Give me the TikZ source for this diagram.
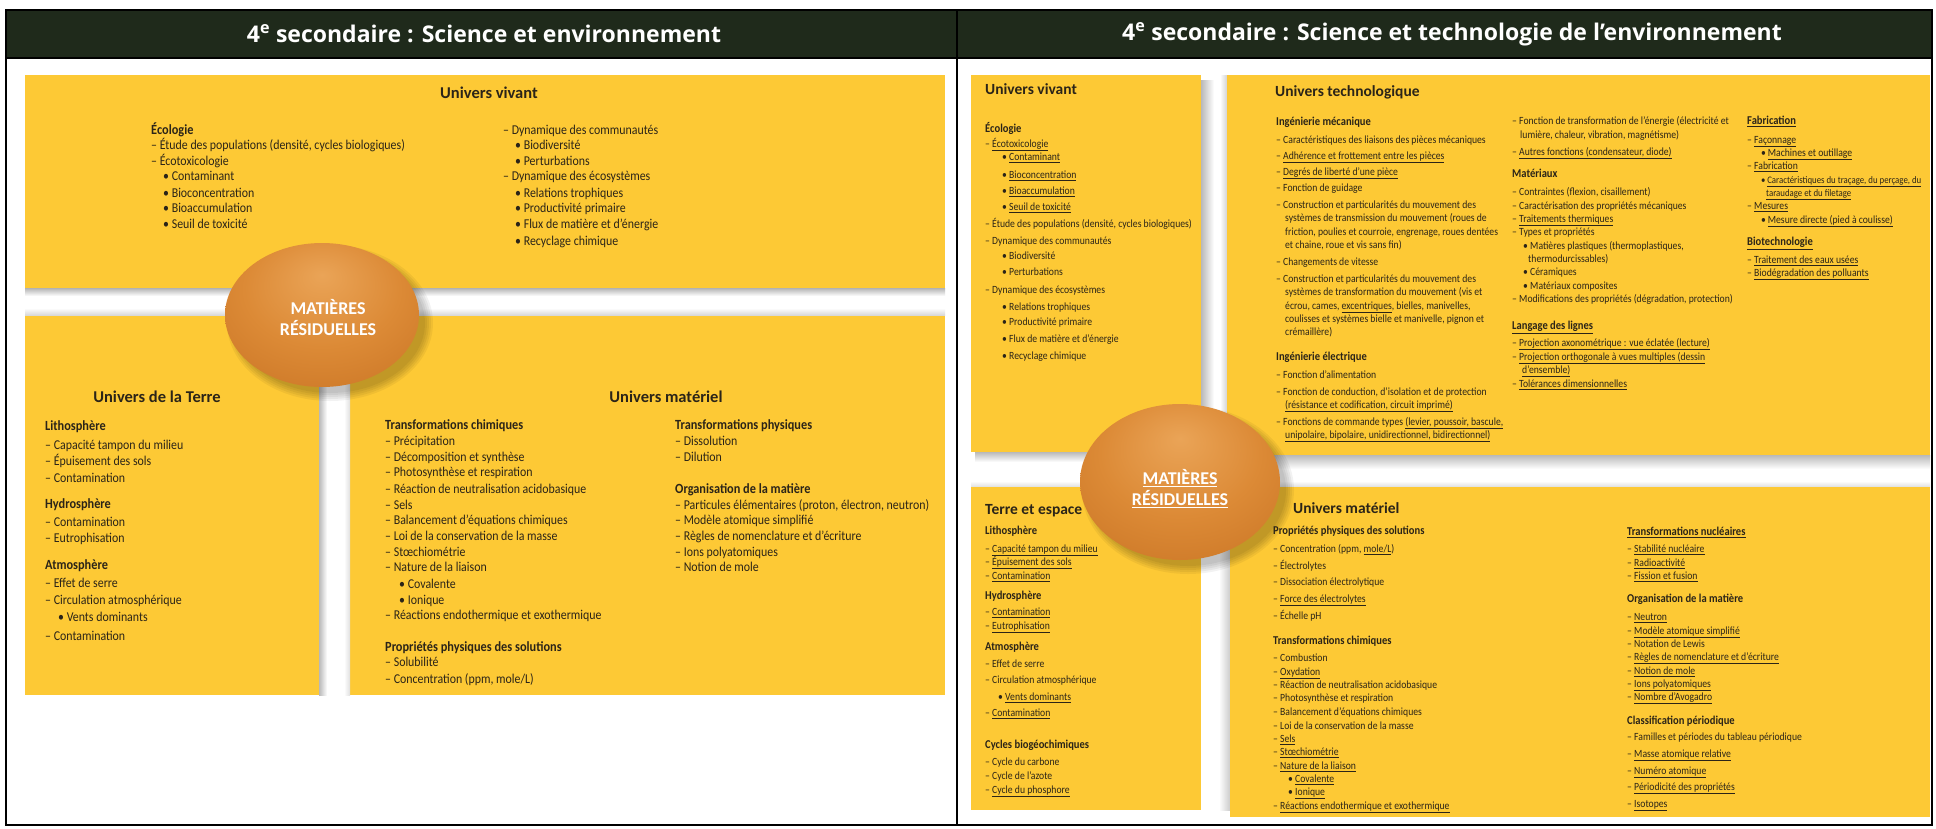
\documentclass[tikz,border=0pt]{standalone}
\usepackage{fontspec}
\setmainfont{Carlito}[FakeStretch=0.88]
\newfontfamily\headfont{Carlito}
\newfontfamily\hdrfont{Open Sans}
\definecolor{hdrgreen}{HTML}{1F2A1B}
\definecolor{ylw}{HTML}{FDC935}
\definecolor{txt}{HTML}{2B2418}
\definecolor{orgA}{HTML}{EAA457}
\definecolor{orgM}{HTML}{DC8A36}
\definecolor{orgB}{HTML}{C97424}
\definecolor{orgC}{HTML}{B0621D}
\pgfdeclareradialshading{ovalsh}{\pgfpoint{0bp}{14bp}}{color(0bp)=(orgA); color(20bp)=(orgM); color(40bp)=(orgB); color(56bp)=(orgC)}
\newcounter{tn}
\newcommand\tline[4]{\stepcounter{tn}\node[#1] (t\arabic{tn}) at (#2,#3) {#4};}
\begin{document}
\begin{tikzpicture}[x=1pt,y=-1pt,
  lb/.style={anchor=mid west, inner sep=0, text=txt, font=\fontsize{13.5}{15}\selectfont},
  ls/.style={lb, font=\fontsize{14}{16}\selectfont\bfseries},
  lh/.style={anchor=center, inner sep=0, text=txt, font=\headfont\fontsize{16.5}{18}\selectfont\bfseries},
  rb/.style={anchor=mid west, inner sep=0, text=txt, font=\fontsize{11}{13}\selectfont},
  rbs/.style={rb, font=\fontsize{10}{12}\selectfont},
  rs/.style={rb, font=\fontsize{12}{14}\selectfont\bfseries},
  rh/.style={anchor=mid west, inner sep=0, text=txt, font=\headfont\fontsize{15.5}{17}\selectfont\bfseries},
  hdr/.style={anchor=center, inner sep=0, text=white, font=\hdrfont\fontsize{23}{25}\selectfont\bfseries},
  ovaltext/.style={anchor=center, inner sep=0, text=white, font=\headfont\fontsize{18}{20}\selectfont\bfseries},
  panel/.style={fill=ylw, draw=none},
]
\useasboundingbox (0,0) rectangle (1936,828);
\fill[white] (0,0) rectangle (1936,828);

% ---------- table ----------
\fill[hdrgreen] (6,10) rectangle (1932,58);
\node[hdr] (hl) at (484,34) {4\textsuperscript{e} secondaire : Science et environnement};
\node[hdr] (hr) at (1452,34) {4\textsuperscript{e} secondaire : Science et technologie de l’environnement};

% ---------- left panel ----------
\fill[panel] (25,75) rectangle (945,289);
\fill[panel] (25,315) rectangle (319,695);
\fill[panel] (350,315) rectangle (945,695);
\shade[top color=gray!60, bottom color=white] (25,288) rectangle (945,296);
\shade[top color=white, bottom color=gray!30] (25,308) rectangle (945,315);
\shade[left color=gray!55, right color=white] (319,315) rectangle (327,695);
\shade[left color=white, right color=gray!25] (344,315) rectangle (350,695);

% ---------- right panel ----------
\shade[left color=gray!55, right color=white] (1201,80) rectangle (1214,460);
\shade[top color=gray!55, bottom color=white] (975,452) rectangle (1214,462);
\shade[left color=white, right color=gray!35] (1220,75) rectangle (1227,455);
\shade[top color=gray!55, bottom color=white] (1227,455) rectangle (1930,469);
\shade[left color=white, right color=gray!40] (1219,487) rectangle (1230,810);
\shade[top color=white, bottom color=gray!25] (971,481) rectangle (1930,487);
\fill[panel] (971,75) rectangle (1201,452);
\fill[panel] (1227,75) rectangle (1930,455);
\fill[panel] (971,487) rectangle (1201,810);
\fill[panel] (1230,487) rectangle (1930,817);

% table lines on top
\draw[line width=2pt] (6,10) rectangle (1932,825);
\draw[line width=2.5pt] (6,58) -- (1932,58);
\draw[line width=1.5pt] (957,10) -- (957,825);

% ---------- ovals ----------
\foreach \k in {1,...,5} {
  \fill[black, opacity=0.05] (330,323) ellipse [x radius=93+\k*2, y radius=68+\k*2];
  \fill[black, opacity=0.05] (1188,490) ellipse [x radius=96+\k*2, y radius=74+\k*2];
}
\shade[shading=ovalsh] (322,315) ellipse [x radius=97, y radius=72];
\shade[shading=ovalsh] (1180,482) ellipse [x radius=100, y radius=78];
\node[ovaltext] (ol1) at (328,307) {MATIÈRES};
\node[ovaltext] (ol2) at (328,328) {RÉSIDUELLES};
\node[ovaltext] (or1) at (1180,478) {\underline{MATIÈRES}};
\node[ovaltext] (or2) at (1180,499) {\underline{RÉSIDUELLES}};

% ---------- left panel text ----------
\node[lh] (lvv) at (489,93) {Univers vivant};
\tline{ls}{151}{132}{Écologie}
\tline{lb}{151}{147}{– Étude des populations (densité, cycles biologiques)}
\tline{lb}{151}{163}{– Écotoxicologie}
\tline{lb}{163}{178}{• Contaminant}
\tline{lb}{163}{195}{• Bioconcentration}
\tline{lb}{163}{210}{• Bioaccumulation}
\tline{lb}{163}{226}{• Seuil de toxicité}
\tline{lb}{503}{132}{– Dynamique des communautés}
\tline{lb}{515}{147}{• Biodiversité}
\tline{lb}{515}{163}{• Perturbations}
\tline{lb}{503}{178}{– Dynamique des écosystèmes}
\tline{lb}{515}{195}{• Relations trophiques}
\tline{lb}{515}{210}{• Productivité primaire}
\tline{lb}{515}{226}{• Flux de matière et d’énergie}
\tline{lb}{515}{243}{• Recyclage chimique}

\node[lh] (lter) at (157,397) {Univers de la Terre};
\tline{ls}{45}{428}{Lithosphère}
\tline{lb}{45}{447}{– Capacité tampon du milieu}
\tline{lb}{45}{463}{– Épuisement des sols}
\tline{lb}{45}{480}{– Contamination}
\tline{ls}{45}{506}{Hydrosphère}
\tline{lb}{45}{524}{– Contamination}
\tline{lb}{45}{540}{– Eutrophisation}
\tline{ls}{45}{567}{Atmosphère}
\tline{lb}{45}{585}{– Effet de serre}
\tline{lb}{45}{602}{– Circulation atmosphérique}
\tline{lb}{58}{619}{• Vents dominants}
\tline{lb}{45}{638}{– Contamination}

\node[lh] (lmat) at (666,397) {Univers matériel};
\tline{ls}{385}{427}{Transformations chimiques}
\tline{lb}{385}{443}{– Précipitation}
\tline{lb}{385}{459}{– Décomposition et synthèse}
\tline{lb}{385}{474}{– Photosynthèse et respiration}
\tline{lb}{385}{491}{– Réaction de neutralisation acidobasique}
\tline{lb}{385}{507}{– Sels}
\tline{lb}{385}{522}{– Balancement d’équations chimiques}
\tline{lb}{385}{538}{– Loi de la conservation de la masse}
\tline{lb}{385}{554}{– Stœchiométrie}
\tline{lb}{385}{569}{– Nature de la liaison}
\tline{lb}{399}{586}{• Covalente}
\tline{lb}{399}{602}{• Ionique}
\tline{lb}{385}{617}{– Réactions endothermique et exothermique}
\tline{ls}{385}{649}{Propriétés physiques des solutions}
\tline{lb}{385}{664}{– Solubilité}
\tline{lb}{385}{681}{– Concentration (ppm, mole/L)}
\tline{ls}{675}{427}{Transformations physiques}
\tline{lb}{675}{443}{– Dissolution}
\tline{lb}{675}{459}{– Dilution}
\tline{ls}{675}{491}{Organisation de la matière}
\tline{lb}{675}{507}{– Particules élémentaires (proton, électron, neutron)}
\tline{lb}{675}{522}{– Modèle atomique simplifié}
\tline{lb}{675}{538}{– Règles de nomenclature et d’écriture}
\tline{lb}{675}{554}{– Ions polyatomiques}
\tline{lb}{675}{569}{– Notion de mole}

% ---------- right panel text ----------
\tline{rh}{985}{92}{Univers vivant}
\tline{rs}{985}{130}{Écologie}
\tline{rb}{985}{145}{– \underline{Écotoxicologie}}
\tline{rb}{1002}{158}{• \underline{Contaminant}}
\tline{rb}{1002}{176}{• \underline{Bioconcentration}}
\tline{rb}{1002}{192}{• \underline{Bioaccumulation}}
\tline{rb}{1002}{208}{• \underline{Seuil de toxicité}}
\tline{rb}{985}{225}{– Étude des populations (densité, cycles biologiques)}
\tline{rb}{985}{242}{– Dynamique des communautés}
\tline{rb}{1002}{257}{• Biodiversité}
\tline{rb}{1002}{273}{• Perturbations}
\tline{rb}{985}{291}{– Dynamique des écosystèmes}
\tline{rb}{1002}{308}{• Relations trophiques}
\tline{rb}{1002}{323}{• Productivité primaire}
\tline{rb}{1002}{340}{• Flux de matière et d’énergie}
\tline{rb}{1002}{357}{• Recyclage chimique}

\tline{rh}{1275}{94}{Univers technologique}
\tline{rs}{1276}{123}{Ingénierie mécanique}
\tline{rb}{1276}{141}{– Caractéristiques des liaisons des pièces mécaniques}
\tline{rb}{1276}{157}{– \underline{Adhérence et frottement entre les pièces}}
\tline{rb}{1276}{173}{– \underline{Degrés de liberté d’une pièce}}
\tline{rb}{1276}{189}{– Fonction de guidage}
\tline{rb}{1276}{206}{– Construction et particularités du mouvement des}
\tline{rb}{1285}{219}{systèmes de transmission du mouvement (roues de}
\tline{rb}{1285}{233}{friction, poulies et courroie, engrenage, roues dentées}
\tline{rb}{1285}{246}{et chaine, roue et vis sans fin)}
\tline{rb}{1276}{263}{– Changements de vitesse}
\tline{rb}{1276}{280}{– Construction et particularités du mouvement des}
\tline{rb}{1285}{293}{systèmes de transformation du mouvement (vis et}
\tline{rb}{1285}{307}{écrou, cames, \underline{excentriques}, bielles, manivelles,}
\tline{rb}{1285}{320}{coulisses et systèmes bielle et manivelle, pignon et}
\tline{rb}{1285}{333}{crémaillère)}
\tline{rs}{1276}{358}{Ingénierie électrique}
\tline{rb}{1276}{376}{– Fonction d’alimentation}
\tline{rb}{1276}{393}{– Fonction de conduction, d’isolation et de protection}
\tline{rb}{1285}{406}{\underline{(résistance et codification, circuit imprimé)}}
\tline{rb}{1276}{423}{– Fonctions de commande types \underline{(levier, poussoir, bascule,}}
\tline{rb}{1285}{436}{\underline{unipolaire, bipolaire, unidirectionnel, bidirectionnel)}}

\tline{rb}{1512}{122}{– Fonction de transformation de l’énergie (électricité et}
\tline{rb}{1520}{136}{lumière, chaleur, vibration, magnétisme)}
\tline{rb}{1512}{153}{– \underline{Autres fonctions (condensateur, diode)}}
\tline{rs}{1512}{175}{Matériaux}
\tline{rb}{1512}{193}{– Contraintes (flexion, cisaillement)}
\tline{rb}{1512}{207}{– Caractérisation des propriétés mécaniques}
\tline{rb}{1512}{220}{– \underline{Traitements thermiques}}
\tline{rb}{1512}{233}{– Types et propriétés}
\tline{rb}{1523}{247}{• Matières plastiques (thermoplastiques,}
\tline{rb}{1528}{260}{thermodurcissables)}
\tline{rb}{1523}{273}{• Céramiques}
\tline{rb}{1523}{287}{• Matériaux composites}
\tline{rb}{1512}{300}{– Modifications des propriétés (dégradation, protection)}
\tline{rs}{1512}{327}{\underline{Langage des lignes}}
\tline{rb}{1512}{344}{– \underline{Projection axonométrique : vue éclatée (lecture)}}
\tline{rb}{1512}{358}{– \underline{Projection orthogonale à vues multiples (dessin}}
\tline{rb}{1522}{371}{\underline{d’ensemble)}}
\tline{rb}{1512}{385}{– \underline{Tolérances dimensionnelles}}

\tline{rs}{1747}{122}{\underline{Fabrication}}
\tline{rb}{1747}{141}{– \underline{Façonnage}}
\tline{rb}{1761}{154}{•\,\underline{Machines et outillage}}
\tline{rb}{1747}{167}{– \underline{Fabrication}}
\tline{rbs}{1761}{181}{•\,\underline{Caractéristiques du traçage, du perçage, du}}
\tline{rbs}{1766}{194}{\underline{taraudage et du filetage}}
\tline{rb}{1747}{207}{– \underline{Mesures}}
\tline{rb}{1761}{221}{•\,\underline{Mesure directe (pied à coulisse)}}
\tline{rs}{1747}{243}{\underline{Biotechnologie}}
\tline{rb}{1747}{261}{– \underline{Traitement des eaux usées}}
\tline{rb}{1747}{274}{– \underline{Biodégradation des polluants}}

\tline{rh}{985}{512}{Terre et espace}
\tline{rs}{985}{532}{Lithosphère}
\tline{rb}{985}{550}{– \underline{Capacité tampon du milieu}}
\tline{rb}{985}{563}{– \underline{Épuisement des sols}}
\tline{rb}{985}{577}{– \underline{Contamination}}
\tline{rs}{985}{597}{Hydrosphère}
\tline{rb}{985}{613}{– \underline{Contamination}}
\tline{rb}{985}{627}{– \underline{Eutrophisation}}
\tline{rs}{985}{648}{Atmosphère}
\tline{rb}{985}{665}{– Effet de serre}
\tline{rb}{985}{681}{– Circulation atmosphérique}
\tline{rb}{998}{698}{• \underline{Vents dominants}}
\tline{rb}{985}{714}{– \underline{Contamination}}
\tline{rs}{985}{746}{Cycles biogéochimiques}
\tline{rb}{985}{763}{– Cycle du carbone}
\tline{rb}{985}{777}{– Cycle de l’azote}
\tline{rb}{985}{791}{– \underline{Cycle du phosphore}}

\tline{rh}{1293}{511}{Univers matériel}
\tline{rs}{1273}{532}{Propriétés physiques des solutions}
\tline{rb}{1273}{550}{– Concentration (ppm, \underline{mole/L})}
\tline{rb}{1273}{567}{– Électrolytes}
\tline{rb}{1273}{583}{– Dissociation électrolytique}
\tline{rb}{1273}{600}{– \underline{Force des électrolytes}}
\tline{rb}{1273}{617}{– Échelle pH}
\tline{rs}{1273}{642}{Transformations chimiques}
\tline{rb}{1273}{659}{– Combustion}
\tline{rb}{1273}{673}{– \underline{Oxydation}}
\tline{rb}{1273}{686}{– Réaction de neutralisation acidobasique}
\tline{rb}{1273}{699}{– Photosynthèse et respiration}
\tline{rb}{1273}{713}{– Balancement d’équations chimiques}
\tline{rb}{1273}{727}{– Loi de la conservation de la masse}
\tline{rb}{1273}{740}{– \underline{Sels}}
\tline{rb}{1273}{753}{– \underline{Stœchiométrie}}
\tline{rb}{1273}{767}{– \underline{Nature de la liaison}}
\tline{rb}{1288}{780}{• \underline{Covalente}}
\tline{rb}{1288}{793}{• \underline{Ionique}}
\tline{rb}{1273}{807}{– \underline{Réactions endothermique et exothermique}}

\tline{rs}{1627}{533}{\underline{Transformations nucléaires}}
\tline{rb}{1627}{550}{– \underline{Stabilité nucléaire}}
\tline{rb}{1627}{564}{– \underline{Radioactivité}}
\tline{rb}{1627}{577}{– \underline{Fission et fusion}}
\tline{rs}{1627}{600}{Organisation de la matière}
\tline{rb}{1627}{618}{– \underline{Neutron}}
\tline{rb}{1627}{632}{– \underline{Modèle atomique simplifié}}
\tline{rb}{1627}{645}{– Notation de Lewis}
\tline{rb}{1627}{658}{– \underline{Règles de nomenclature et d’écriture}}
\tline{rb}{1627}{672}{– \underline{Notion de mole}}
\tline{rb}{1627}{685}{– \underline{Ions polyatomiques}}
\tline{rb}{1627}{698}{– \underline{Nombre d’Avogadro}}
\tline{rs}{1627}{722}{Classification périodique}
\tline{rb}{1627}{738}{– Familles et périodes du tableau périodique}
\tline{rb}{1627}{755}{– \underline{Masse atomique relative}}
\tline{rb}{1627}{772}{– \underline{Numéro atomique}}
\tline{rb}{1627}{788}{– \underline{Périodicité des propriétés}}
\tline{rb}{1627}{805}{– \underline{Isotopes}}
\end{tikzpicture}
\end{document}
